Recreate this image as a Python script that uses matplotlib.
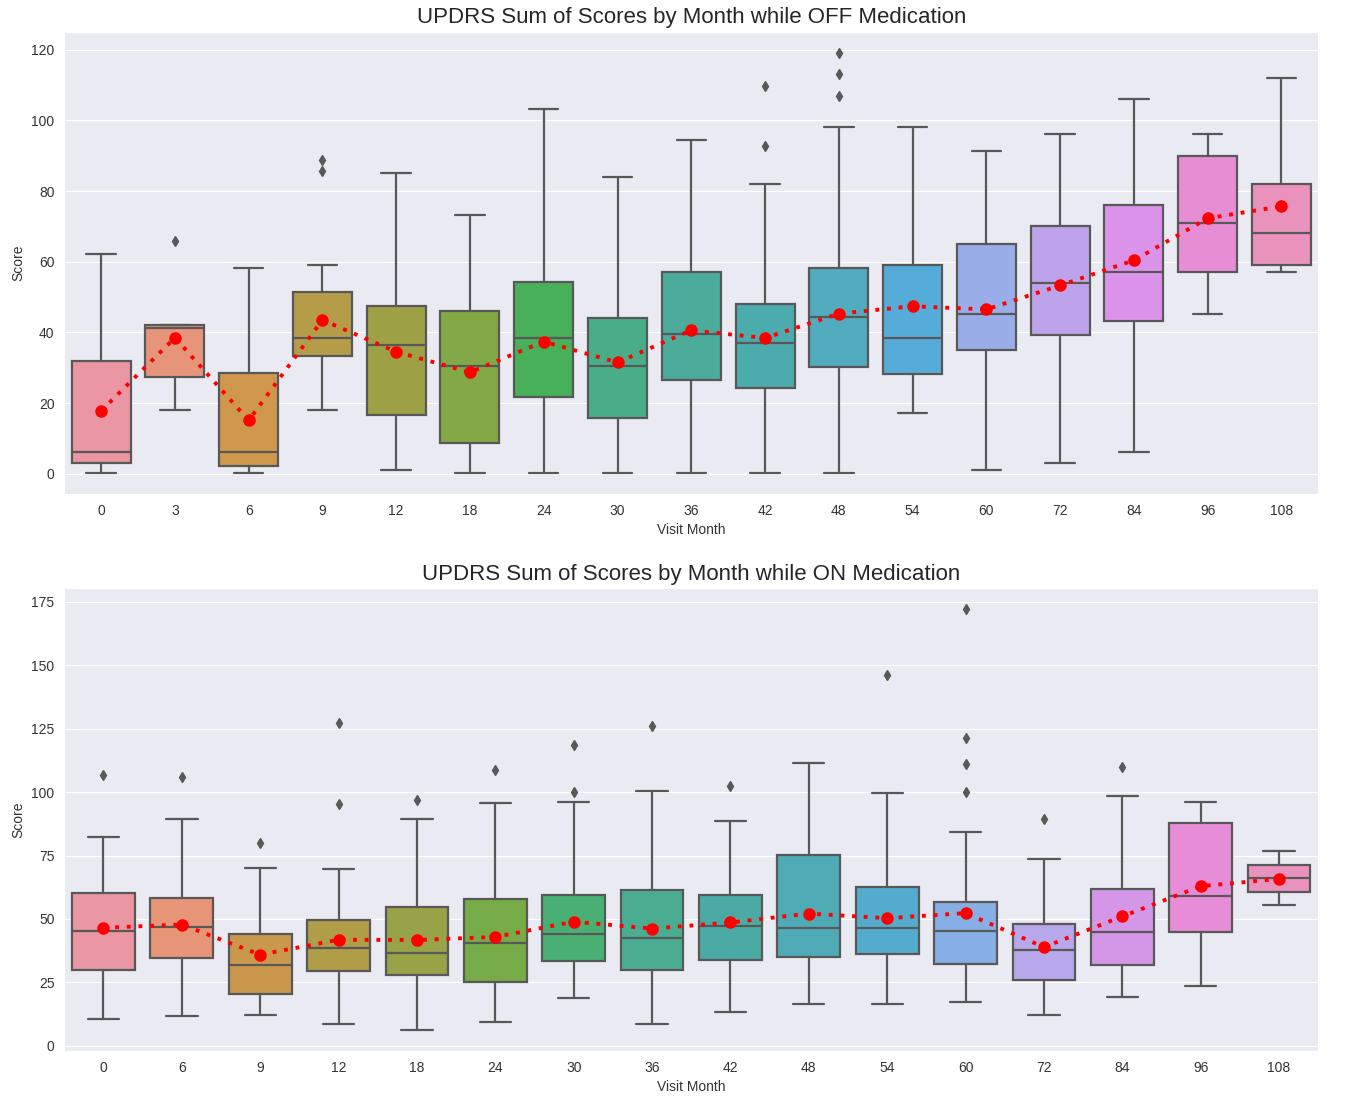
import matplotlib
matplotlib.use("Agg")
import matplotlib.pyplot as plt
import seaborn as sns

# OFF medication, one entry per visit month
off_months = ["0", "3", "6", "9", "12", "18", "24", "30", "36", "42", "48", "54", "60", "72", "84", "96", "108"]
off_whislo = [0.2, 18.0, 0.2, 18.0, 1.0, 0.2, 0.2, 0.2, 0.2, 0.2, 0.2, 17.2, 1.1, 3.1, 6.2, 45.2, 57.0]
off_q1 = [3.1, 27.3, 2.2, 33.2, 16.6, 8.7, 21.7, 15.7, 26.4, 24.2, 30.3, 28.2, 35.0, 39.3, 43.3, 57.0, 59.1]
off_med = [6.2, 41.2, 6.0, 38.4, 36.3, 30.5, 38.4, 30.6, 39.6, 37.1, 44.3, 38.4, 45.2, 54.0, 57.0, 71.1, 68.0]
off_q3 = [31.9, 42.2, 28.5, 51.4, 47.6, 46.0, 54.4, 44.2, 57.0, 48.1, 58.3, 59.0, 65.0, 70.1, 76.0, 90.0, 82.0]
off_whishi = [62.1, 42.2, 58.3, 59.1, 85.0, 73.1, 103.2, 84.1, 94.4, 82.0, 98.1, 98.1, 91.3, 96.1, 106.1, 96.1, 112.1]
off_mean = [17.8, 38.5, 15.1, 43.5, 34.5, 28.7, 37.4, 31.5, 40.6, 38.4, 45.3, 47.4, 46.5, 53.3, 60.4, 72.3, 75.7]
off_fliers = [[], [66.0], [], [88.9, 85.8], [], [], [], [], [], [109.8, 92.8],
              [119.2, 113.1, 106.8], [], [], [], [], [], []]

# ON medication
on_months = ["0", "6", "9", "12", "18", "24", "30", "36", "42", "48", "54", "60", "72", "84", "96", "108"]
on_whislo = [10.4, 11.6, 12.2, 8.6, 6.3, 9.2, 18.8, 8.6, 13.3, 16.3, 16.3, 17.4, 12.2, 19.3, 23.4, 55.4]
on_q1 = [29.9, 34.7, 20.4, 29.3, 27.7, 25.1, 33.4, 30.0, 33.8, 34.8, 36.3, 32.2, 25.8, 31.7, 44.7, 60.6]
on_med = [45.4, 46.7, 31.9, 38.4, 36.5, 40.6, 44.1, 42.3, 47.1, 46.5, 46.5, 45.4, 37.7, 44.8, 58.9, 66.1]
on_q3 = [60.2, 58.4, 44.0, 49.5, 54.8, 57.8, 59.5, 61.3, 59.5, 75.4, 62.4, 56.5, 48.2, 61.9, 87.7, 71.3]
on_whishi = [82.5, 89.6, 70.2, 69.6, 89.6, 95.7, 96.2, 100.5, 88.5, 111.6, 99.8, 84.3, 73.7, 98.5, 96.2, 76.7]
on_mean = [46.5, 47.8, 35.9, 41.8, 41.7, 42.9, 48.9, 46.2, 48.6, 52.1, 50.3, 52.3, 38.9, 51.0, 62.9, 65.8]
on_fliers = [[106.9], [105.8], [79.9], [127.2, 95.2], [96.9], [108.8], [118.7, 100.0], [125.9],
             [102.4], [], [146.1], [172.1, 121.3, 111.1, 99.9], [89.4], [110.0], [], []]


def draw_panel(ax, months, whislo, q1, med, q3, whishi, means, fliers, title):
    stats = []
    for i in range(len(months)):
        stats.append(dict(whislo=whislo[i], q1=q1[i], med=med[i], q3=q3[i],
                          whishi=whishi[i], fliers=fliers[i]))

    colors = [sns.desaturate(c, 0.75) for c in sns.husl_palette(len(months), l=0.7)]
    gray = "#585858"
    lw = 1.6

    pos = list(range(len(months)))
    bp = ax.bxp(stats, positions=pos, widths=0.8, patch_artist=True,
                boxprops=dict(edgecolor=gray, linewidth=lw),
                medianprops=dict(color=gray, linewidth=lw),
                whiskerprops=dict(color=gray, linewidth=lw),
                capprops=dict(color=gray, linewidth=lw),
                flierprops=dict(marker="d", markerfacecolor=gray, markeredgecolor=gray,
                                markersize=5, linestyle="none"),
                capwidths=0.4)
    for patch, c in zip(bp["boxes"], colors):
        patch.set_facecolor(c)

    # mean per month, dotted red line with points
    ax.plot(pos, means, color="red", linestyle=(0, (1, 2)), linewidth=2.8,
            marker="o", markersize=8, zorder=5)

    ax.set_xticks(pos)
    ax.set_xticklabels(months)
    ax.set_xlim(-0.5, len(months) - 0.5)
    ax.xaxis.grid(False)
    ax.tick_params(labelsize=10, colors="#333333")
    ax.set_xlabel("Visit Month", fontsize=10, color="#333333")
    ax.set_ylabel("Score", fontsize=10, color="#333333")
    ax.set_title(title, fontsize=16, color="#262626")


sns.set_style("darkgrid")
plt.rcParams["font.family"] = ["Liberation Sans", "DejaVu Sans"]

fig = plt.figure(figsize=(13.45, 11.11), dpi=100)
ax1 = fig.add_axes([0.0478, 0.5554, 0.9323, 0.4161])
ax2 = fig.add_axes([0.0478, 0.0542, 0.9323, 0.4163])

draw_panel(ax1, off_months, off_whislo, off_q1, off_med, off_q3, off_whishi, off_mean,
           off_fliers, "UPDRS Sum of Scores by Month while OFF Medication")
ax1.set_yticks([0, 20, 40, 60, 80, 100, 120])

draw_panel(ax2, on_months, on_whislo, on_q1, on_med, on_q3, on_whishi, on_mean,
           on_fliers, "UPDRS Sum of Scores by Month while ON Medication")
ax2.set_yticks([0, 25, 50, 75, 100, 125, 150, 175])

fig.savefig("out.png", dpi=100)
